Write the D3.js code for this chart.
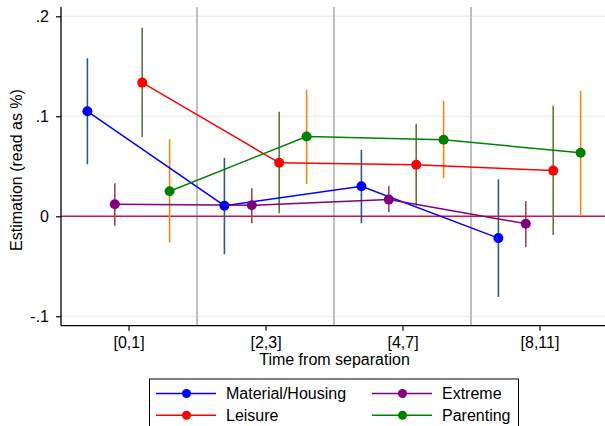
<!DOCTYPE html>
<html>
<head>
<meta charset="utf-8">
<script src="https://cdn.jsdelivr.net/npm/d3@7"></script>
<style>
  html, body { margin: 0; padding: 0; background: #fff; }
  svg { display: block; font-family: "Liberation Sans", Arial, sans-serif; }
</style>
</head>
<body>
<svg id="chart" width="605" height="426"></svg>
<script>
// Time periods after separation
const periods = ["[0,1]", "[2,3]", "[4,7]", "[8,11]"];

// Point estimates and 95% confidence bounds per domain
const materialEst = [0.105, 0.0106, 0.030, -0.0218];
const materialLo  = [0.052, -0.038, -0.007, -0.0806];
const materialHi  = [0.158, 0.0585, 0.0665, 0.037];

const extremeEst = [0.012, 0.011, 0.0167, -0.0074];
const extremeLo  = [-0.0094, -0.007, 0.004, -0.031];
const extremeHi  = [0.033, 0.028, 0.0304, 0.0153];

const leisureEst = [0.1337, 0.0535, 0.0515, 0.0457];
const leisureLo  = [0.0792, 0.003, 0.0106, -0.0188];
const leisureHi  = [0.1886, 0.1046, 0.0926, 0.1106];

const parentingEst = [0.025, 0.0798, 0.0765, 0.0635];
const parentingLo  = [-0.0265, 0.0324, 0.038, 0.0013];
const parentingHi  = [0.0772, 0.1267, 0.1156, 0.1256];

const yTicks = [-0.1, 0, 0.1, 0.2];
const yTickLabels = ["-.1", "0", ".1", ".2"];

const series = [
  { name: "Material/Housing", est: materialEst, lo: materialLo, hi: materialHi, offset: -0.3, color: "#0000ff", ci: "#2b5a8a" },
  { name: "Extreme",          est: extremeEst,  lo: extremeLo,  hi: extremeHi,  offset: -0.1, color: "#800080", ci: "#a0454f" },
  { name: "Leisure",          est: leisureEst,  lo: leisureLo,  hi: leisureHi,  offset:  0.1, color: "#ff0000", ci: "#5b7a3a" },
  { name: "Parenting",        est: parentingEst, lo: parentingLo, hi: parentingHi, offset: 0.3, color: "#008000", ci: "#e88a10" }
];

const svg = d3.select("#chart");
const plotLeft = 61, plotRight = 605, plotTop = 7, plotBottom = 325.7;
const fontSize = 16;

const x = d3.scaleLinear().domain([0.5, 4.5]).range([60, 608]);
const y = d3.scaleLinear().domain([-0.1094, 0.2093]).range([plotBottom, plotTop]);

// Horizontal gridlines
svg.append("g").selectAll("line").data(yTicks.filter(v => v !== 0)).join("line")
  .attr("x1", plotLeft).attr("x2", plotRight)
  .attr("y1", d => y(d)).attr("y2", d => y(d))
  .attr("stroke", "#e9eff1").attr("stroke-width", 1.5);

// Period separators
svg.append("g").selectAll("line").data([1.5, 2.5, 3.5]).join("line")
  .attr("x1", d => x(d)).attr("x2", d => x(d))
  .attr("y1", plotTop).attr("y2", plotBottom)
  .attr("stroke", "#c0c0c0").attr("stroke-width", 2);

// Zero reference line
svg.append("line")
  .attr("x1", plotLeft).attr("x2", plotRight)
  .attr("y1", y(0)).attr("y2", y(0))
  .attr("stroke", "#d0104c").attr("stroke-width", 1.5);

// Confidence intervals
series.forEach(s => {
  svg.append("g").selectAll("line").data(periods).join("line")
    .attr("x1", (d, i) => x(i + 1 + s.offset)).attr("x2", (d, i) => x(i + 1 + s.offset))
    .attr("y1", (d, i) => y(s.lo[i])).attr("y2", (d, i) => y(s.hi[i]))
    .attr("stroke", s.ci).attr("stroke-width", 1.6);
});

// Connecting lines
const line = d3.line().x(d => x(d.xi)).y(d => y(d.v));
series.forEach(s => {
  const pts = s.est.map((v, i) => ({ xi: i + 1 + s.offset, v }));
  svg.append("path").datum(pts)
    .attr("d", line).attr("fill", "none")
    .attr("stroke", s.color).attr("stroke-width", 1.5);
});

// Markers
series.forEach(s => {
  svg.append("g").selectAll("circle").data(s.est).join("circle")
    .attr("cx", (d, i) => x(i + 1 + s.offset))
    .attr("cy", d => y(d))
    .attr("r", 5)
    .attr("fill", s.color);
});

// Y axis
const yAxis = d3.axisLeft(y).tickValues(yTicks)
  .tickFormat((d, i) => yTickLabels[i]).tickSize(5).tickPadding(7);
const gy = svg.append("g").attr("transform", `translate(${plotLeft},0)`).call(yAxis);
gy.select(".domain").attr("d", `M0,${plotTop}V${plotBottom}`).attr("stroke", "#000").attr("stroke-width", 1.3);
gy.selectAll(".tick line").attr("stroke", "#000").attr("stroke-width", 1.2);
gy.selectAll(".tick text").attr("font-size", fontSize).attr("fill", "#000")
  .attr("font-family", "Liberation Sans, Arial, sans-serif");

// X axis
const xAxis = d3.axisBottom(x).tickValues([1, 2, 3, 4])
  .tickFormat((d, i) => periods[i]).tickSize(5).tickPadding(6);
const gx = svg.append("g").attr("transform", `translate(0,${plotBottom})`).call(xAxis);
gx.select(".domain").attr("d", `M${plotLeft},0H${plotRight}`).attr("stroke", "#000").attr("stroke-width", 1.3);
gx.selectAll(".tick line").attr("stroke", "#000").attr("stroke-width", 1.2);
gx.selectAll(".tick text").attr("font-size", fontSize).attr("fill", "#000")
  .attr("font-family", "Liberation Sans, Arial, sans-serif");

// Axis titles
svg.append("text")
  .attr("x", 334.5).attr("y", 364.5)
  .attr("text-anchor", "middle").attr("font-size", fontSize)
  .text("Time from separation");

svg.append("text")
  .attr("transform", `translate(22,170) rotate(-90)`)
  .attr("text-anchor", "middle").attr("font-size", fontSize)
  .text("Estimation (read as %)");

// Legend
const legend = svg.append("g");
legend.append("rect")
  .attr("x", 149.5).attr("y", 379).attr("width", 369).attr("height", 52)
  .attr("fill", "#fff").attr("stroke", "#000").attr("stroke-width", 1);

const legendPos = [
  { s: series[0], lx: 156, ly: 393.5 },
  { s: series[1], lx: 372, ly: 393.5 },
  { s: series[2], lx: 156, ly: 415.3 },
  { s: series[3], lx: 372, ly: 415.3 }
];
legendPos.forEach(p => {
  legend.append("line")
    .attr("x1", p.lx).attr("x2", p.lx + 60)
    .attr("y1", p.ly).attr("y2", p.ly)
    .attr("stroke", p.s.color).attr("stroke-width", 1.5);
  legend.append("circle")
    .attr("cx", p.lx + 30.5).attr("cy", p.ly).attr("r", 4.5)
    .attr("fill", p.s.color);
  legend.append("text")
    .attr("x", p.lx + 70).attr("y", p.ly + 5.8)
    .attr("font-size", fontSize)
    .text(p.s.name);
});
</script>
</body>
</html>
